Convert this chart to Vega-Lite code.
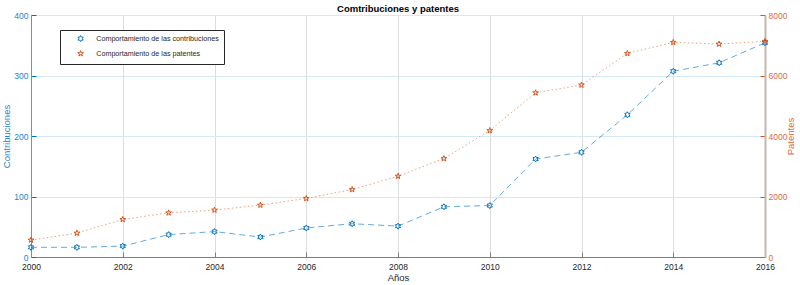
{
  "$schema": "https://vega.github.io/schema/vega-lite/v6.json",
  "width": 734,
  "height": 242,
  "autosize": {"type": "none"},
  "padding": {"left": 31, "top": 15, "right": 35, "bottom": 28},
  "title": {"text": "Comtribuciones y patentes", "fontSize": 9.5, "fontWeight": "bold", "color": "#000000", "offset": -2, "anchor": "middle"},
  "config": {"font": "Liberation Sans", "view": {"stroke": "#7f7f7f", "strokeWidth": 1}},
  "data": {"values": [
    {"anio": 2000, "contribuciones": 16, "patentes": 560},
    {"anio": 2001, "contribuciones": 16, "patentes": 790},
    {"anio": 2002, "contribuciones": 18, "patentes": 1240},
    {"anio": 2003, "contribuciones": 37, "patentes": 1460},
    {"anio": 2004, "contribuciones": 42, "patentes": 1550},
    {"anio": 2005, "contribuciones": 33, "patentes": 1715},
    {"anio": 2006, "contribuciones": 48, "patentes": 1935},
    {"anio": 2007, "contribuciones": 55, "patentes": 2230},
    {"anio": 2008, "contribuciones": 51, "patentes": 2670},
    {"anio": 2009, "contribuciones": 83, "patentes": 3255},
    {"anio": 2010, "contribuciones": 85, "patentes": 4180},
    {"anio": 2011, "contribuciones": 162, "patentes": 5430},
    {"anio": 2012, "contribuciones": 173, "patentes": 5685},
    {"anio": 2013, "contribuciones": 235, "patentes": 6730},
    {"anio": 2014, "contribuciones": 307, "patentes": 7095},
    {"anio": 2015, "contribuciones": 321, "patentes": 7040},
    {"anio": 2016, "contribuciones": 354, "patentes": 7130}
  ]},
  "encoding": {
    "x": {
      "field": "anio", "type": "quantitative",
      "scale": {"domain": [2000, 2016], "nice": false, "zero": false},
      "axis": {
        "values": [2000, 2002, 2004, 2006, 2008, 2010, 2012, 2014, 2016],
        "format": "d", "title": "Años", "titleFontSize": 9.5, "titleFontWeight": "normal",
        "titleColor": "#262626", "labelColor": "#262626", "labelFontSize": 8.5, "labelFlush": false,
        "domainColor": "#7f7f7f", "tickColor": "#7f7f7f", "tickSize": -5, "labelPadding": 10.5,
        "gridColor": "#dcdcdc", "grid": true, "titlePadding": 1
      }
    }
  },
  "layer": [
    {
      "encoding": {
        "y": {
          "field": "contribuciones", "type": "quantitative",
          "scale": {"domain": [0, 400], "nice": false},
          "axis": {
            "orient": "left", "values": [0, 100, 200, 300, 400], "title": "Contribuciones", "labelFlush": false,
            "titleColor": "#1a85d0", "labelColor": "#1a85d0", "titleFontSize": 9.5, "titleFontWeight": "normal",
            "labelFontSize": 8.5, "domainColor": "#4a9fd8", "tickColor": "#0072BD", "tickSize": -5, "labelPadding": 8,
            "grid": true, "gridColor": "#d4e8f7", "titlePadding": 2
          }
        }
      },
      "layer": [
        {"mark": {"type": "line", "color": "#0072BD", "strokeDash": [6, 4], "opacity": 0.6, "strokeWidth": 1}},
        {
          "mark": {"type": "point", "filled": false, "size": 36, "strokeWidth": 1, "opacity": 1},
          "encoding": {
            "color": {"datum": "Comportamiento de las contribuciones", "type": "nominal",
              "scale": {"domain": ["Comportamiento de las contribuciones", "Comportamiento de las patentes"], "range": ["#0072BD", "#D95319"]},
              "legend": {"orient": "none", "legendX": 29, "legendY": 15, "title": null, "fillColor": "#ffffff", "strokeColor": "#262626",
                "padding": 5, "labelFontSize": 7.2, "labelColor": "#262626", "symbolSize": 36, "symbolStrokeWidth": 1, "symbolOffset": 12, "labelOffset": 12, "rowPadding": 4}},
            "shape": {"datum": "Comportamiento de las contribuciones", "type": "nominal",
              "scale": {"domain": ["Comportamiento de las contribuciones", "Comportamiento de las patentes"],
                "range": ["M0,-1L0.2887,-0.5L0.866,-0.5L0.577,0L0.866,0.5L0.2887,0.5L0,1L-0.2887,0.5L-0.866,0.5L-0.577,0L-0.866,-0.5L-0.2887,-0.5Z",
                          "M0,-1L0.2245,-0.309L0.951,-0.309L0.363,0.118L0.588,0.809L0,0.382L-0.588,0.809L-0.363,0.118L-0.951,-0.309L-0.2245,-0.309Z"]}}
          }
        }
      ]
    },
    {
      "encoding": {
        "y": {
          "field": "patentes", "type": "quantitative",
          "scale": {"domain": [0, 8000], "nice": false},
          "axis": {
            "orient": "right", "values": [0, 2000, 4000, 6000, 8000], "format": "d", "title": "Patentes", "titleAngle": 270, "labelFlush": false,
            "titleColor": "#e06a3a", "labelColor": "#e06a3a", "titleFontSize": 9.5, "titleFontWeight": "normal",
            "labelFontSize": 8.5, "domainColor": "#c5b5ae", "domainWidth": 2, "tickColor": "#D95319", "tickSize": -5, "labelPadding": 8,
            "grid": false, "titlePadding": 9
          }
        }
      },
      "layer": [
        {"mark": {"type": "line", "color": "#D95319", "strokeDash": [1.5, 2.5], "opacity": 0.55, "strokeWidth": 1}},
        {
          "mark": {"type": "point", "filled": false, "size": 36, "strokeWidth": 1, "opacity": 1},
          "encoding": {
            "color": {"datum": "Comportamiento de las patentes", "type": "nominal"},
            "shape": {"datum": "Comportamiento de las patentes", "type": "nominal"}
          }
        }
      ]
    }
  ],
  "resolve": {"scale": {"y": "independent"}}
}
